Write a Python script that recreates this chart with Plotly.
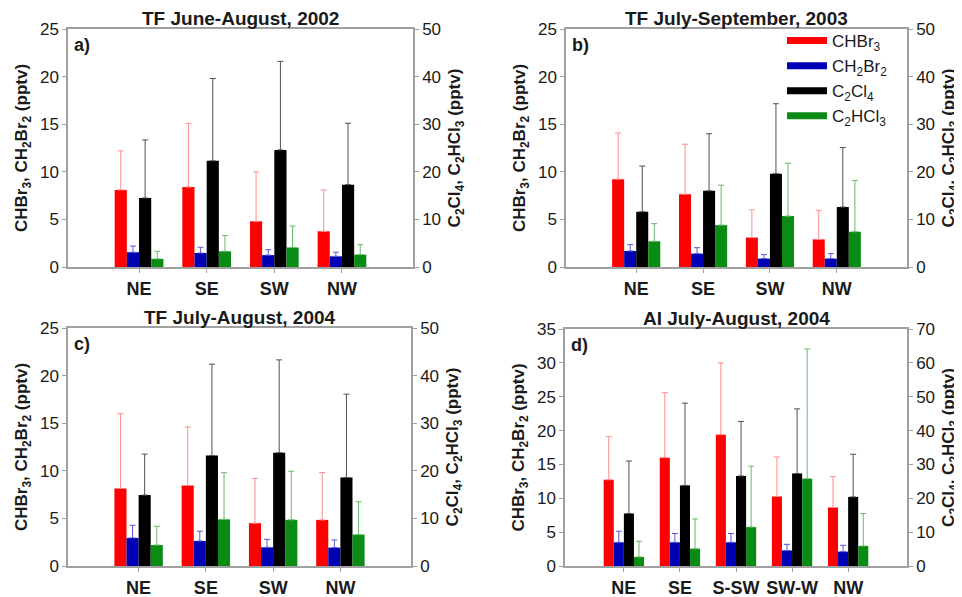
import plotly.graph_objects as go

# page body has an 8px margin; figure sized to fit the 962x597 window
OFF = 8
W, H = 962 - OFF, 597 - OFF

# ---------------- data ----------------
cats_abc = ["NE", "SE", "SW", "NW"]
cats_d = ["NE", "SE", "S-SW", "SW-W", "NW"]

titles = ["TF June-August, 2002", "TF July-September, 2003",
          "TF July-August, 2004", "AI July-August, 2004"]
panel_labels = ["a)", "b)", "c)", "d)"]

# panel a
chbr3_a = [8.1, 8.4, 4.8, 3.75];    chbr3_a_sd = [4.1, 6.7, 5.2, 4.35]
ch2br2_a = [1.55, 1.47, 1.25, 1.12]; ch2br2_a_sd = [0.65, 0.6, 0.57, 0.43]
c2cl4_a = [14.5, 22.3, 24.6, 17.3];  c2cl4_a_sd = [12.2, 17.3, 18.6, 12.9]
c2hcl3_a = [1.7, 3.3, 4.1, 2.6];     c2hcl3_a_sd = [1.6, 3.3, 4.5, 2.1]

# panel b
chbr3_b = [9.23, 7.65, 3.09, 2.9];  chbr3_b_sd = [4.84, 5.25, 2.91, 3.06]
ch2br2_b = [1.68, 1.4, 0.88, 0.88]; ch2br2_b_sd = [0.67, 0.63, 0.42, 0.52]
c2cl4_b = [11.6, 16.0, 19.6, 12.6]; c2cl4_b_sd = [9.6, 12.0, 14.7, 12.5]
c2hcl3_b = [5.4, 8.8, 10.7, 7.4];   c2hcl3_b_sd = [3.7, 8.4, 11.1, 10.8]

# panel c
chbr3_c = [8.14, 8.46, 4.5, 4.84];   chbr3_c_sd = [7.86, 6.14, 4.7, 4.98]
ch2br2_c = [2.95, 2.63, 1.96, 1.93]; ch2br2_c_sd = [1.33, 1.02, 0.84, 0.81]
c2cl4_c = [14.9, 23.2, 23.8, 18.6];  c2cl4_c_sd = [8.6, 19.2, 19.5, 17.5]
c2hcl3_c = [4.4, 9.8, 9.7, 6.6];     c2hcl3_c_sd = [3.95, 9.8, 10.2, 6.9]

# panel d
chbr3_d = [12.73, 16.0, 19.4, 10.27, 8.64]; chbr3_d_sd = [6.37, 9.6, 10.6, 5.83, 4.56]
ch2br2_d = [3.5, 3.5, 3.5, 2.3, 2.12];      ch2br2_d_sd = [1.63, 1.3, 1.3, 0.9, 0.94]
c2cl4_d = [15.5, 23.8, 26.6, 27.3, 20.4];   c2cl4_d_sd = [15.5, 24.3, 16.1, 19.1, 12.6]
c2hcl3_d = [2.67, 5.1, 11.5, 25.8, 5.9];    c2hcl3_d_sd = [4.63, 8.8, 18.0, 38.3, 9.6]

species = ["CHBr<sub>3</sub>", "CH<sub>2</sub>Br<sub>2</sub>",
           "C<sub>2</sub>Cl<sub>4</sub>", "C<sub>2</sub>HCl<sub>3</sub>"]

panels = [
    (cats_abc, [(chbr3_a, chbr3_a_sd), (ch2br2_a, ch2br2_a_sd), (c2cl4_a, c2cl4_a_sd), (c2hcl3_a, c2hcl3_a_sd)]),
    (cats_abc, [(chbr3_b, chbr3_b_sd), (ch2br2_b, ch2br2_b_sd), (c2cl4_b, c2cl4_b_sd), (c2hcl3_b, c2hcl3_b_sd)]),
    (cats_abc, [(chbr3_c, chbr3_c_sd), (ch2br2_c, ch2br2_c_sd), (c2cl4_c, c2cl4_c_sd), (c2hcl3_c, c2hcl3_c_sd)]),
    (cats_d, [(chbr3_d, chbr3_d_sd), (ch2br2_d, ch2br2_d_sd), (c2cl4_d, c2cl4_d_sd), (c2hcl3_d, c2hcl3_d_sd)]),
]
left_max = [25, 25, 25, 35]
right_max = [50, 50, 50, 70]

# ---------------- style ----------------
FONT = "Liberation Sans, Arial, sans-serif"
TXT = "#1a1a1a"
bar_colors = ["#ff0000", "#0000b4", "#000000", "#0a8c14"]
err_colors = ["#ff8c8c", "#5a5ad2", "#505050", "#6ab86a"]
axis_col = "#a0a0a0"
BW = 0.18
offsets = [-2 * BW, -BW, 0, BW]

# page-pixel boxes (left, right, top, bottom)
boxes = [(68, 413, 29, 267), (566, 907, 29, 267),
         (68, 411, 328, 566), (565, 907, 329, 566)]


def px(v):
    return (v - OFF) / W


def py(v):
    return 1 - (v - OFF) / H


fig = go.Figure()
layout = dict(width=W, height=H, margin=dict(l=0, r=0, t=0, b=0, autoexpand=False),
              plot_bgcolor="white", paper_bgcolor="white",
              font=dict(family=FONT, size=17, color=TXT),
              showlegend=True, annotations=[])

for p, (cats, series) in enumerate(panels):
    xi = p + 1
    yl = 2 * p + 1
    yr = 2 * p + 2
    xname = "x" if xi == 1 else f"x{xi}"
    ylname = "y" if yl == 1 else f"y{yl}"
    yrname = f"y{yr}"
    l, r, t, b = boxes[p]
    n = len(cats)
    xs = list(range(n))
    for s, (vals, sd) in enumerate(series):
        fig.add_trace(go.Bar(
            x=xs, y=vals, width=BW, offset=offsets[s],
            marker=dict(color=bar_colors[s], line=dict(width=0)),
            error_y=dict(type="data", array=sd, symmetric=False,
                         arrayminus=[0] * n, color=err_colors[s],
                         thickness=1, width=3),
            xaxis=xname, yaxis=ylname if s < 2 else yrname,
            showlegend=False, name=species[s]))
    xa = dict(domain=[px(l), px(r)], anchor=ylname, automargin=False,
              range=[-1.05, n - 1 + 1.05],
              tickmode="array", tickvals=xs,
              ticktext=[f"<b>{c}</b>" for c in cats],
              tickfont=dict(size=18, color=TXT),
              ticks="outside", ticklen=4, tickcolor=axis_col,
              showline=True, linecolor=axis_col, linewidth=1.5, mirror=True,
              showgrid=False, zeroline=False, ticklabelstandoff=1)
    ya = dict(domain=[py(b), py(t)], anchor=xname, automargin=False,
              range=[0, left_max[p]], dtick=5,
              ticks="outside", ticklen=4, tickcolor=axis_col,
              showline=True, linecolor=axis_col, linewidth=1.5,
              showgrid=False, zeroline=False,
              tickfont=dict(size=17, color=TXT),
              title=dict(text="<b>CHBr<sub>3</sub>, CH<sub>2</sub>Br<sub>2</sub> (pptv)</b>",
                         font=dict(size=17), standoff=8))
    yra = dict(domain=[py(b), py(t)], anchor=xname, overlaying=ylname, automargin=False,
               side="right", range=[0, right_max[p]], dtick=10,
               ticks="outside", ticklen=4, tickcolor=axis_col,
               showline=True, linecolor=axis_col, linewidth=1.5,
               showgrid=False, zeroline=False,
               tickfont=dict(size=17, color=TXT),
               title=dict(text="<b>C<sub>2</sub>Cl<sub>4</sub>, C<sub>2</sub>HCl<sub>3</sub> (pptv)</b>",
                          font=dict(size=17), standoff=8))
    layout["xaxis" if xi == 1 else f"xaxis{xi}"] = xa
    layout["yaxis" if yl == 1 else f"yaxis{yl}"] = ya
    layout[f"yaxis{yr}"] = yra
    layout["annotations"].append(dict(
        text=f"<b>{titles[p]}</b>", xref="paper", yref="paper",
        x=px((l + r) / 2), y=py(t - 11), xanchor="center", yanchor="middle",
        showarrow=False, font=dict(size=19, color=TXT)))
    layout["annotations"].append(dict(
        text=f"<b>{panel_labels[p]}</b>", xref=f"{xname} domain", yref=f"{ylname} domain",
        x=0.012, y=0.985, xanchor="left", yanchor="top",
        showarrow=False, font=dict(size=18, color=TXT)))

# legend entries (shown in panel b)
for s in range(4):
    fig.add_trace(go.Scatter(x=[None], y=[None], mode="lines", name=species[s],
                             line=dict(color=bar_colors[s], width=7),
                             xaxis="x2", yaxis="y3", showlegend=True))

layout["legend"] = dict(x=px(782), y=py(23), xanchor="left", yanchor="top",
                        bgcolor="rgba(0,0,0,0)", font=dict(size=17, color=TXT),
                        tracegroupgap=0, itemwidth=40)

fig.update_layout(**layout)
fig.write_html("out.html")
